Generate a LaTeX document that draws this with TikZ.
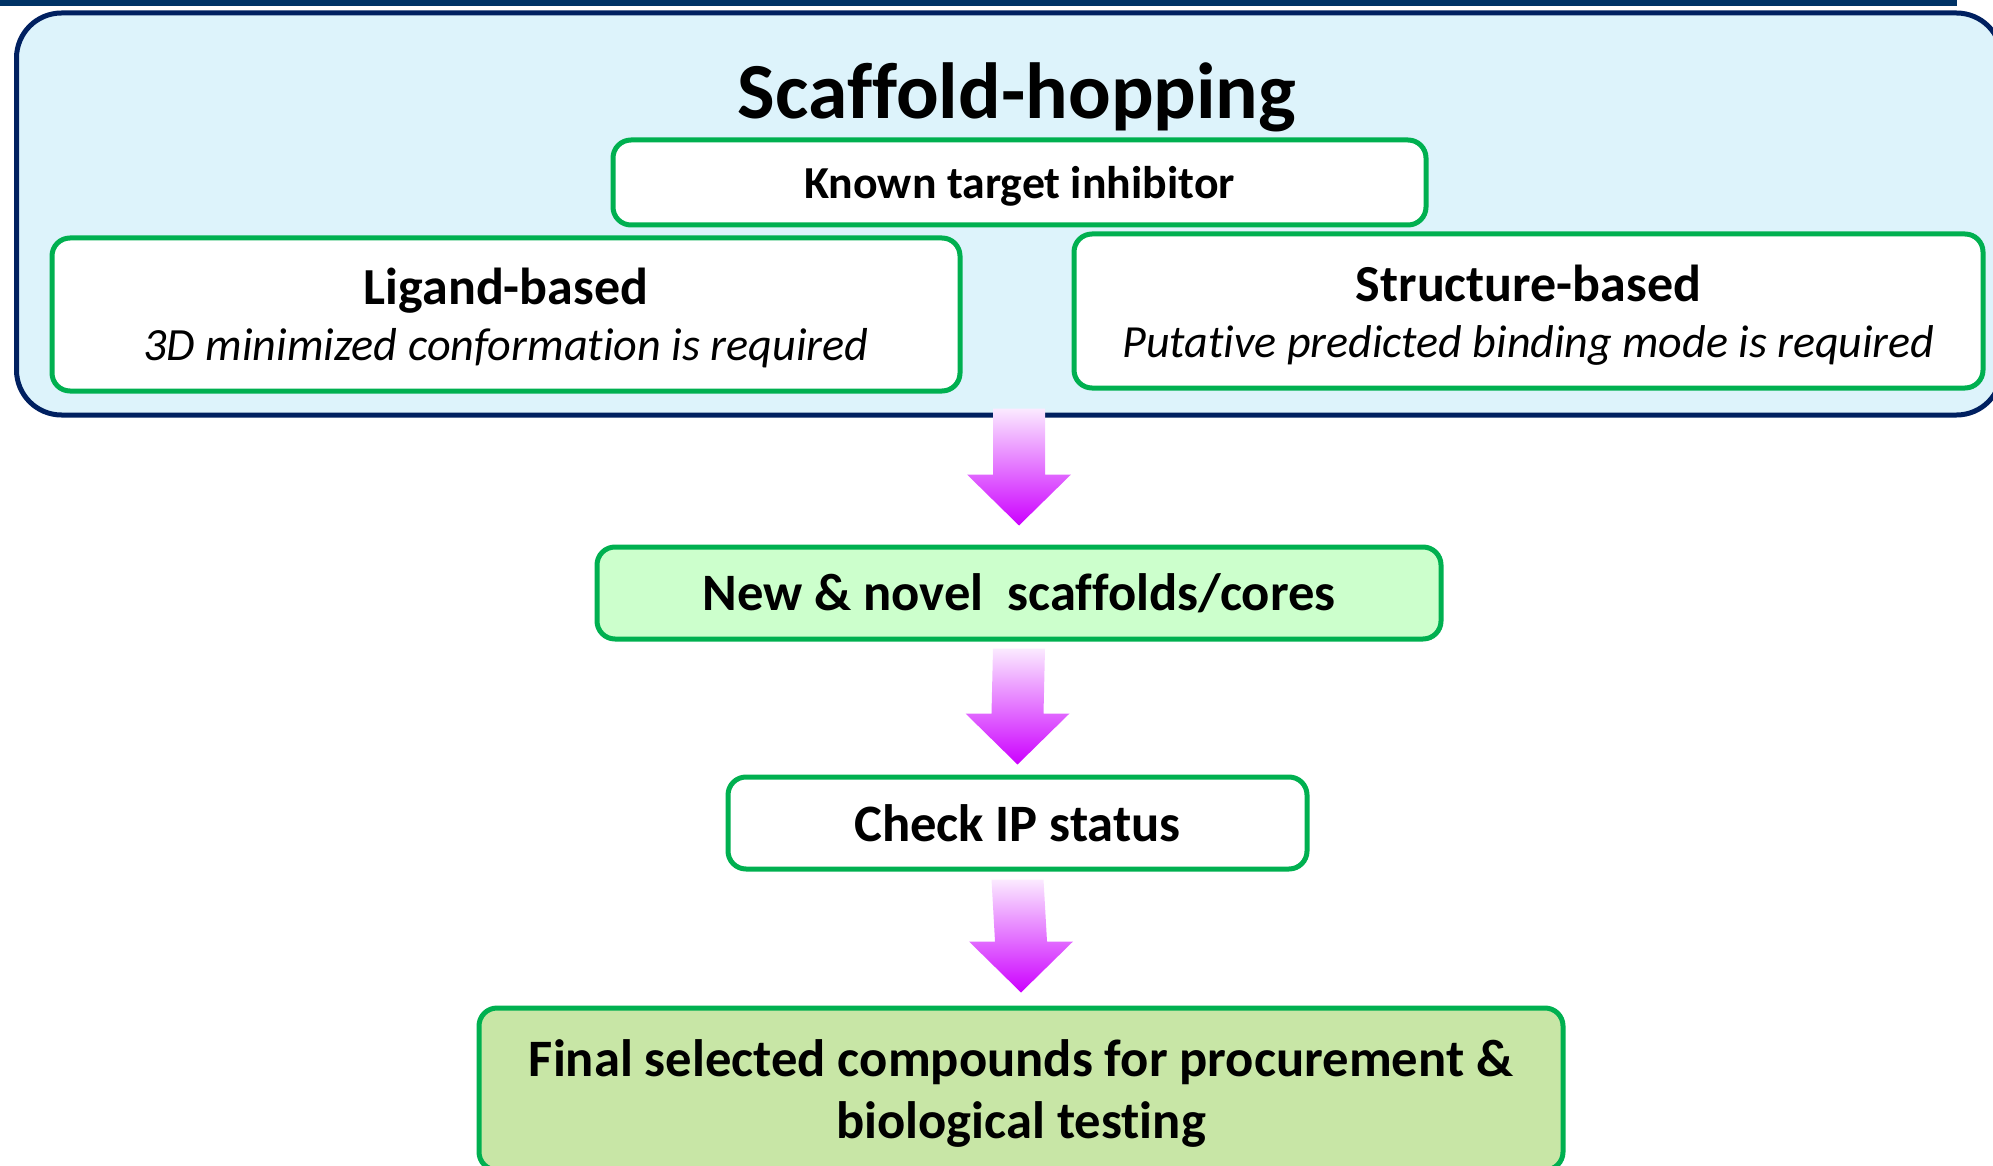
\documentclass[tikz,border=0pt]{standalone}
\usepackage{fontspec}
\setmainfont{Carlito}[Ligatures=NoCommon]
\usetikzlibrary{calc}

\definecolor{hopblue}{HTML}{002060}
\definecolor{hopfill}{HTML}{DDF3FB}
\definecolor{barblue}{HTML}{003366}
\definecolor{boxgreen}{HTML}{00B050}
\definecolor{novelfill}{HTML}{CCFFCC}
\definecolor{finalfill}{HTML}{C8E6A6}
\definecolor{arrowpink}{HTML}{CC00FF}
\definecolor{arrowpale}{HTML}{FBEAFF}

\tikzset{
  greenbox/.style={draw=boxgreen, line width=5pt, rounded corners=18pt, fill=white, align=center, inner sep=0pt},
  flowshade/.style={top color=arrowpale, middle color=arrowpink, bottom color=arrowpink},
  bigtext/.style={font=\fontsize{52.6}{62}\selectfont\bfseries},
  approach/.style={font=\fontsize{52}{56}\selectfont, text depth=-5pt},
}
% block arrow: shaft top #1, tip #2
\newcommand{\flowarrow}[2]{%
  \shade[flowshade] ($(#1)+(-26,0)$) -- ($(#1)+(26,0)$) -- ($(#2)+(26,-51)$) -- ($(#2)+(52,-51)$)
    -- (#2) -- ($(#2)+(-52,-51)$) -- ($(#2)+(-26,-51)$) -- cycle;}

\begin{document}
\begin{tikzpicture}[x=1pt,y=-1pt]
    \useasboundingbox (0,0) rectangle (1993,1166);
    % top bar
    \fill[barblue] (0,0) rectangle (1957,6);
    % scaffold-hopping panel
    \node (hop) [draw=hopblue, fill=hopfill, line width=5pt, rounded corners=45pt, minimum width=1985pt, minimum height=402pt, inner sep=0pt] at (1009,214) {};
    \node (title) at (1017,97) {\fontsize{79.5}{90}\selectfont\bfseries Scaffold-hopping};
    \node (known) [greenbox, minimum width=813pt, minimum height=85pt, text depth=0pt, font=\fontsize{45.8}{52}\selectfont\bfseries] at (1019.5,182.5) {Known target inhibitor};
    \node (ligand) [greenbox, approach, minimum width=908pt, minimum height=153pt] at (506,314.5)
      {\bfseries Ligand-based\\ \fontsize{46.2}{56}\selectfont\itshape 3D minimized conformation is required};
    \node (structure) [greenbox, approach, minimum width=909pt, minimum height=154pt] at (1528.5,311)
      {\bfseries Structure-based\\ \fontsize{46}{56}\selectfont\itshape Putative predicted binding mode is required};
    % flow
    \node (novel) [greenbox, fill=novelfill, minimum width=844pt, minimum height=92pt, bigtext] at (1019,593) {New \& novel\ \ scaffolds/cores};
    \node (check) [greenbox, minimum width=579pt, minimum height=92pt, bigtext] at (1017.5,823) {Check IP status};
    \node (final) [greenbox, fill=finalfill, minimum width=1084pt, minimum height=162pt, text depth=0pt, bigtext] at (1021,1089)
      {Final selected compounds for procurement \&\\ biological testing};
    % arrows
    \coordinate (a1s) at ($(hop.south -| novel.north)+(0,-9)$);
    \coordinate (a1e) at ($(novel.north)+(0,-19)$);
    \coordinate (a2s) at ($(novel.south)+(0,7)$);
    \coordinate (a2e) at ($(check.north)+(0,-10)$);
    \coordinate (a3s) at ($(check.south)+(0,8)$);
    \coordinate (a3e) at ($(final.north)+(0,-13)$);
    \flowarrow{a1s}{a1e}
    \flowarrow{a2s}{a2e}
    \flowarrow{a3s}{a3e}
\end{tikzpicture}
\end{document}
